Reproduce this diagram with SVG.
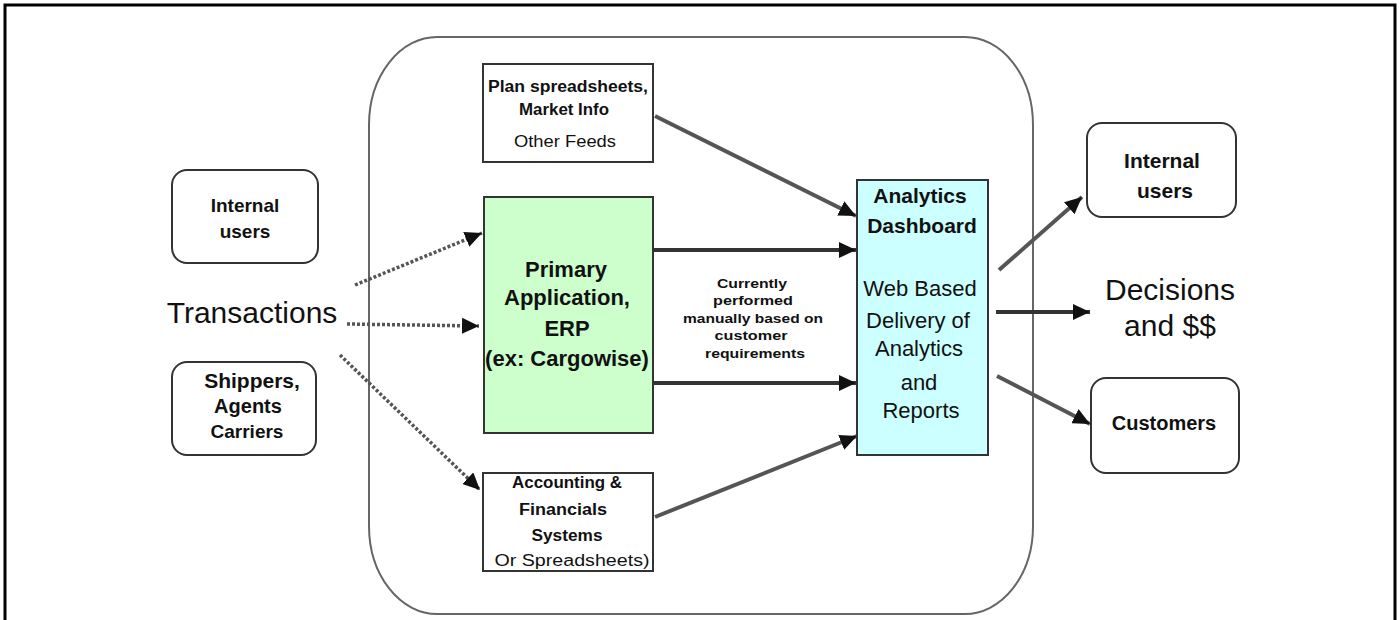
<svg xmlns="http://www.w3.org/2000/svg" width="1400" height="620" viewBox="0 0 1400 620">
<defs>
<style>
.t{font-family:"Liberation Sans",Arial,sans-serif;fill:#111;text-anchor:middle}
.b{font-weight:bold}
.box{fill:#fff;stroke:#333;stroke-width:2}
.rbox{fill:#fff;stroke:#333;stroke-width:2}
.arr{stroke:#333;stroke-width:4;fill:none;marker-end:url(#ah)}
.arrg{stroke:#555;stroke-width:4;fill:none;marker-end:url(#ah)}
.dot{stroke:#555;stroke-width:3.5;fill:none;stroke-dasharray:3 2;marker-end:url(#ah)}
</style>
<marker id="ah" markerUnits="userSpaceOnUse" markerWidth="18" markerHeight="16" refX="17" refY="8" orient="auto">
<path d="M0,0 L17,8 L0,16 z" fill="#111"/>
</marker>
</defs>
<rect x="5" y="5" width="1390" height="640" fill="#fff" stroke="#000" stroke-width="3"/>
<rect id="container" x="369" y="37" width="664" height="577" rx="68" ry="88" fill="none" stroke="#666" stroke-width="2"/>

<g id="connectors">
<line class="arrg" x1="655" y1="116" x2="856" y2="216"/>
<line class="arr" x1="653" y1="250" x2="856" y2="250"/>
<line class="arr" x1="653" y1="383" x2="856" y2="383"/>
<line class="arrg" x1="655" y1="517" x2="857" y2="436"/>
<line class="arrg" x1="999" y1="270" x2="1082" y2="197"/>
<line class="arr" x1="996" y1="312" x2="1090" y2="312"/>
<line class="arrg" x1="997" y1="376" x2="1090" y2="424"/>
<line class="dot" x1="355" y1="285" x2="482" y2="233"/>
<line class="dot" x1="347" y1="324" x2="479" y2="326"/>
<line class="dot" x1="340" y1="355" x2="480" y2="490"/>
</g>

<g id="left-internal-users">
<rect class="rbox" x="172" y="170" width="146" height="93" rx="15"/>
<text class="t b" x="245" y="212" font-size="19">Internal</text>
<text class="t b" x="245" y="238" font-size="19">users</text>
</g>

<g id="transactions">
<text class="t" x="252" y="323" font-size="30">Transactions</text>
</g>

<g id="shippers">
<rect class="rbox" x="172" y="362" width="144" height="93" rx="15"/>
<text class="t b" x="252" y="388" font-size="21">Shippers,</text>
<text class="t b" x="248" y="413" font-size="20">Agents</text>
<text class="t b" x="247" y="438" font-size="19">Carriers</text>
</g>

<g id="plan">
<rect class="box" x="483" y="64" width="170" height="98"/>
<text class="t b" x="568" y="92" font-size="16" textLength="160" lengthAdjust="spacingAndGlyphs">Plan spreadsheets,</text>
<text class="t b" x="564" y="115" font-size="16" textLength="90" lengthAdjust="spacingAndGlyphs">Market Info</text>
<text class="t" x="565" y="147" font-size="16" textLength="102" lengthAdjust="spacingAndGlyphs">Other Feeds</text>
</g>

<g id="erp">
<rect x="484" y="197" width="169" height="236" fill="#ccffcc" stroke="#333" stroke-width="2"/>
<text class="t b" x="566" y="277" font-size="22">Primary</text>
<text class="t b" x="567" y="305" font-size="22">Application,</text>
<text class="t b" x="567" y="336" font-size="22">ERP</text>
<text class="t b" x="567" y="366" font-size="22">(ex: Cargowise)</text>
</g>

<g id="accounting">
<rect class="box" x="483" y="473" width="170" height="98"/>
<text class="t b" x="567" y="488" font-size="16" textLength="110" lengthAdjust="spacingAndGlyphs">Accounting &amp;</text>
<text class="t b" x="563" y="515" font-size="16" textLength="88" lengthAdjust="spacingAndGlyphs">Financials</text>
<text class="t b" x="567" y="541" font-size="16" textLength="71" lengthAdjust="spacingAndGlyphs">Systems</text>
<text class="t" x="572" y="566" font-size="16" textLength="155" lengthAdjust="spacingAndGlyphs">Or Spreadsheets)</text>
</g>

<g id="manual-label">
<text class="t b" x="752" y="288" font-size="13" textLength="70" lengthAdjust="spacingAndGlyphs">Currently</text>
<text class="t b" x="753" y="305" font-size="13" textLength="80" lengthAdjust="spacingAndGlyphs">performed</text>
<text class="t b" x="753" y="323" font-size="13" textLength="140" lengthAdjust="spacingAndGlyphs">manually based on</text>
<text class="t b" x="751" y="340" font-size="13" textLength="73" lengthAdjust="spacingAndGlyphs">customer</text>
<text class="t b" x="755" y="358" font-size="13" textLength="100" lengthAdjust="spacingAndGlyphs">requirements</text>
</g>

<g id="dashboard">
<rect x="857" y="180" width="131" height="275" fill="#ccffff" stroke="#333" stroke-width="2"/>
<text class="t b" x="920" y="203" font-size="21">Analytics</text>
<text class="t b" x="922" y="233" font-size="21">Dashboard</text>
<text class="t" x="920" y="296" font-size="22">Web Based</text>
<text class="t" x="918" y="328" font-size="22">Delivery of</text>
<text class="t" x="919" y="356" font-size="22">Analytics</text>
<text class="t" x="919" y="390" font-size="22">and</text>
<text class="t" x="921" y="418" font-size="22">Reports</text>
</g>

<g id="right-internal-users">
<rect class="rbox" x="1087" y="123" width="149" height="94" rx="15"/>
<text class="t b" x="1162" y="168" font-size="21">Internal</text>
<text class="t b" x="1165" y="198" font-size="21">users</text>
</g>

<g id="decisions">
<text class="t" x="1170" y="300" font-size="30">Decisions</text>
<text class="t" x="1170" y="336" font-size="30">and $$</text>
</g>

<g id="customers">
<rect class="rbox" x="1091" y="378" width="148" height="95" rx="15"/>
<text class="t b" x="1164" y="430" font-size="20">Customers</text>
</g>
</svg>
